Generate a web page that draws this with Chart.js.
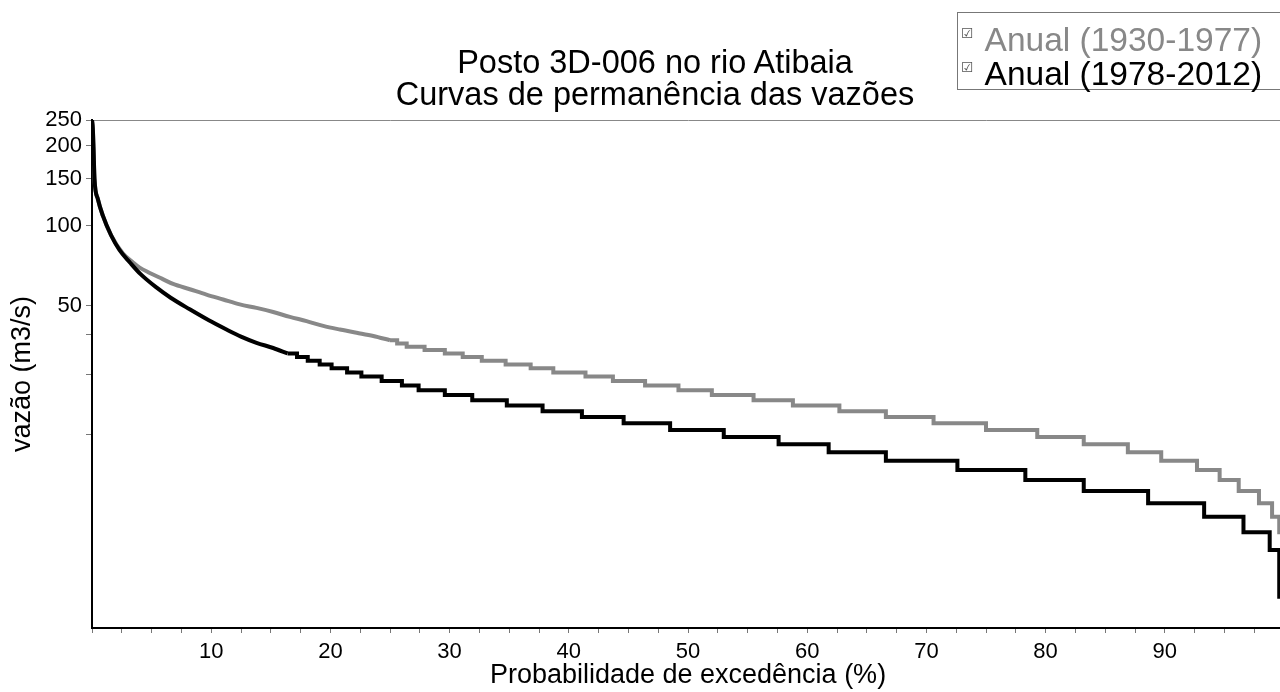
<!DOCTYPE html>
<html>
<head>
<meta charset="utf-8">
<script src="https://cdn.jsdelivr.net/npm/chart.js@4"></script>
<style>
  body { margin: 0; background: #fff; overflow: hidden; }
  #wrap { position: relative; width: 1280px; height: 692px; overflow: hidden; font-family: "Liberation Sans", Arial, sans-serif; }
  #titulo { position: absolute; left: 0; top: 46px; width: 1310px; text-align: center; font-size: 32.5px; line-height: 32px; color: #000; }
  #legenda { position: absolute; left: 957px; top: 12px; width: 340px; height: 76px; border: 1px solid #777; background: #fff; }
  #legenda div { height: 34px; line-height: 34px; font-size: 33.5px; white-space: nowrap; padding-left: 3px; margin-top: 3px; }
  #legenda div + div { margin-top: 0; }
  .chk { font-family: "DejaVu Sans", sans-serif; font-size: 14px; color: #555; vertical-align: 13px; margin-right: 11px; }
</style>
</head>
<body>
<div id="wrap">
  <canvas id="grafico" width="1284" height="692"></canvas>
  <div id="titulo">Posto 3D-006 no rio Atibaia<br>Curvas de permanência das vazões</div>
  <div id="legenda">
    <div style="color:#888"><span class="chk">☑</span>Anual (1930-1977)</div>
    <div style="color:#000"><span class="chk">☑</span>Anual (1978-2012)</div>
  </div>
</div>
<script>
// séries (probabilidade de excedência em %, vazão em m3/s)
const serieAntiga = 'Anual (1930-1977)';
const serieRecente = 'Anual (1978-2012)';

// trecho de cheias (curva contínua)
const antigaSuavePct = [0, 0.07, 0.13, 0.21, 0.49, 0.91, 1.6, 2.6, 3.4, 4.0, 4.8, 5.9, 6.8, 8.2, 9.6, 11.0, 12.4, 13.8, 15.2, 16.6, 18.0, 19.4, 20.8, 22.2, 23.6, 25.0];
const antigaSuaveQ   = [250, 232, 195, 150, 126, 109, 92, 78.5, 73, 69.5, 66.5, 63, 60.3, 57.6, 55, 52.7, 50.5, 49, 47.3, 45.3, 43.7, 41.9, 40.6, 39.5, 38.4, 37];
const recenteSuavePct = [0, 0.07, 0.13, 0.21, 0.49, 0.91, 1.6, 2.3, 3.2, 4.1, 5.4, 6.6, 8.2, 9.8, 11.2, 12.5, 13.8, 15.2, 16.4];
const recenteSuaveQ   = [250, 232, 195, 150, 126, 109, 92, 81, 72.5, 65.5, 58.5, 53.5, 48.4, 44, 40.8, 38.2, 36.2, 34.6, 33];

// trecho de estiagem (vazões inteiras, degraus) - fim de cada patamar em %
const antigaDegrauQ   = [37, 37, 36, 35, 34, 33, 32, 31, 30, 29, 28, 27, 26, 25, 24, 23, 22, 21, 20, 19, 18, 17, 16, 15, 14, 13, 12, 11, 10, 9, 8, 7];
const antigaDegrauPct = [25.0, 25.6, 26.4, 27.9, 29.6, 31.1, 32.7, 34.7, 36.8, 38.7, 41.4, 43.7, 46.4, 49.2, 52.0, 55.5, 58.8, 62.7, 66.6, 70.6, 75.0, 79.3, 83.2, 86.9, 89.7, 92.7, 94.6, 96.2, 97.9, 99.0, 99.6, 100];
const recenteDegrauQ   = [33, 33, 32, 31, 30, 29, 28, 27, 26, 25, 24, 23, 22, 21, 20, 19, 18, 17, 16, 15, 14, 13, 12, 11, 10, 9, 8, 7, 6, 4];
const recenteDegrauPct = [16.4, 17.2, 18.1, 19.1, 20.1, 21.4, 22.6, 24.3, 26.0, 27.4, 29.6, 31.9, 34.8, 37.8, 41.1, 44.6, 48.5, 53.0, 57.6, 61.8, 66.6, 72.6, 78.3, 83.2, 88.6, 93.3, 96.6, 98.8, 99.6, 100];

// eixos
const xRotulos = [10, 20, 30, 40, 50, 60, 70, 80, 90];
const xPassoMenor = 2.5;
const yRotulos = [250, 200, 150, 100, 50];
const yMenores = [39, 27.5, 16.3];

const corAntiga = '#888888';
const corRecente = '#000000';

function pares(xs, ys) {
    return xs.map((x, i) => ({ x: x, y: ys[i] }));
}

const fonte = "'Liberation Sans', Arial, sans-serif";

new Chart(document.getElementById('grafico'), {
    type: 'line',
    data: {
        datasets: [
            { label: serieRecente, data: pares(recenteDegrauPct, recenteDegrauQ), borderColor: corRecente, stepped: 'after', order: 0 },
            { label: serieRecente, data: pares(recenteSuavePct, recenteSuaveQ), borderColor: corRecente, cubicInterpolationMode: 'monotone', order: 0 },
            { label: serieAntiga, data: pares(antigaDegrauPct, antigaDegrauQ), borderColor: corAntiga, stepped: 'after', order: 1 },
            { label: serieAntiga, data: pares(antigaSuavePct, antigaSuaveQ), borderColor: corAntiga, cubicInterpolationMode: 'monotone', order: 1 }
        ]
    },
    options: {
        responsive: false,
        animation: false,
        parsing: false,
        elements: {
            point: { radius: 0 },
            line: { borderWidth: 4, fill: false, borderJoinStyle: 'miter', borderCapStyle: 'butt' }
        },
        layout: { padding: 0 },
        plugins: {
            legend: { display: false },
            title: { display: false },
            tooltip: { enabled: false }
        },
        scales: {
            x: {
                type: 'linear',
                position: 'bottom',
                min: 0,
                max: 100,
                afterBuildTicks: (s) => {
                    const t = [];
                    for (let v = 0; v <= 100; v += xPassoMenor) t.push({ value: v });
                    s.ticks = t;
                },
                afterFit: (s) => { s.height = 64; s.paddingLeft = 0; s.paddingRight = 0; },
                ticks: {
                    autoSkip: false,
                    maxRotation: 0,
                    padding: 6,
                    color: '#000',
                    font: { family: fonte, size: 22 },
                    callback: (v) => xRotulos.includes(v) ? String(v) : ''
                },
                grid: { drawOnChartArea: false, tickLength: 5, tickColor: '#777', tickWidth: 1 },
                border: { color: '#000', width: 2 },
                title: {
                    display: true,
                    text: 'Probabilidade de excedência (%)',
                    color: '#000',
                    font: { family: fonte, size: 27 },
                    padding: 0
                }
            },
            x2: {
                type: 'linear',
                position: 'top',
                min: 0,
                max: 100,
                afterFit: (s) => { s.height = 120; s.paddingLeft = 0; s.paddingRight = 0; },
                ticks: { display: false },
                grid: { display: false },
                border: { color: '#888', width: 1 }
            },
            y: {
                type: 'logarithmic',
                min: 3.05,
                max: 250,
                afterBuildTicks: (s) => {
                    s.ticks = yRotulos.concat(yMenores).map(v => ({ value: v }));
                },
                afterFit: (s) => { s.width = 92; },
                ticks: {
                    autoSkip: false,
                    padding: 4,
                    color: '#000',
                    font: { family: fonte, size: 22 },
                    callback: (v) => yRotulos.includes(v) ? String(v) : ''
                },
                grid: { drawOnChartArea: false, tickLength: 6, tickColor: '#777', tickWidth: 1 },
                border: { color: '#000', width: 2 },
                title: {
                    display: true,
                    text: 'vazão (m3/s)',
                    color: '#000',
                    font: { family: fonte, size: 27 },
                    padding: { top: 6, bottom: 0 }
                }
            }
        }
    }
});
</script>
</body>
</html>
